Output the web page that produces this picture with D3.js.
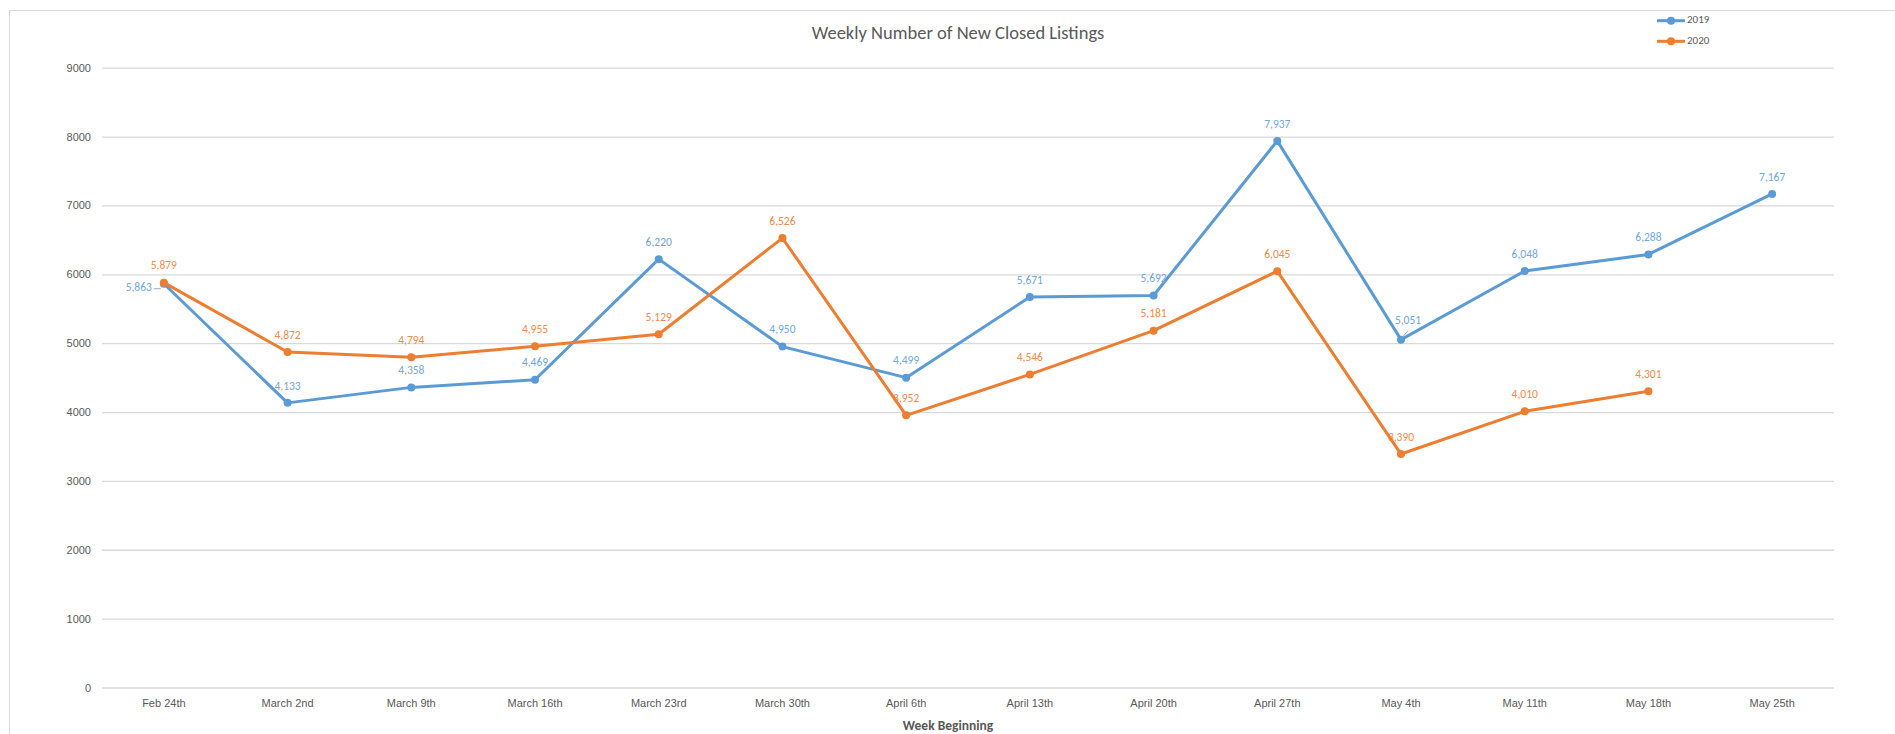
<!DOCTYPE html>
<html>
<head>
<meta charset="utf-8">
<script src="https://cdn.jsdelivr.net/npm/d3@7"></script>
<style>
  body { margin: 0; background: #fff; }
  svg { display: block; font-family: Carlito, Calibri, Lato, sans-serif; }
</style>
</head>
<body>
<div id="chart"></div>
<script>
// week labels on the x axis
var weeks = ["Feb 24th", "March 2nd", "March 9th", "March 16th", "March 23rd", "March 30th",
  "April 6th", "April 13th", "April 20th", "April 27th", "May 4th", "May 11th", "May 18th", "May 25th"];
var values2019 = [5863, 4133, 4358, 4469, 6220, 4950, 4499, 5671, 5692, 7937, 5051, 6048, 6288, 7167];
var values2020 = [5879, 4872, 4794, 4955, 5129, 6526, 3952, 4546, 5181, 6045, 3390, 4010, 4301];
var yTicks = [0, 1000, 2000, 3000, 4000, 5000, 6000, 7000, 8000, 9000];

var width = 1895, height = 734;
var plot = { left: 102, right: 1834, top: 67.7, bottom: 687.5 };
var textColor = "#595959";
var gridColor = "#d9d9d9";

var series = [
  { name: "2019", values: values2019, color: "#5b9bd5", label: "#6fa8dc" },
  { name: "2020", values: values2020, color: "#ed7d31", label: "#f08a4b" }
];

var svg = d3.select("#chart").append("svg")
  .attr("width", width)
  .attr("height", height);

// chart border
svg.append("rect")
  .attr("x", 9.5).attr("y", 10.5)
  .attr("width", width).attr("height", height)
  .attr("fill", "none")
  .attr("stroke", gridColor);

var x = d3.scaleBand()
  .domain(weeks)
  .range([plot.left, plot.right]);

var y = d3.scaleLinear()
  .domain([0, 9000])
  .range([plot.bottom, plot.top]);

function cx(i) { return x(weeks[i]) + x.bandwidth() / 2; }

// y axis with gridlines
var yAxis = svg.append("g")
  .attr("transform", "translate(" + plot.left + ",0)")
  .call(d3.axisLeft(y).tickValues(yTicks).tickSize(-(plot.right - plot.left)).tickPadding(11).tickFormat(d3.format("d")));
yAxis.select(".domain").remove();
yAxis.selectAll(".tick line").attr("stroke", gridColor).attr("stroke-width", 1.3);
yAxis.selectAll(".tick text")
  .attr("fill", textColor)
  .style("font-size", "11px");

// x axis labels
var xAxis = svg.append("g")
  .attr("transform", "translate(0," + plot.bottom + ")")
  .call(d3.axisBottom(x).tickSize(0).tickPadding(0));
xAxis.select(".domain").remove();
xAxis.selectAll(".tick text")
  .attr("y", 15.5)
  .attr("dy", "0.35em")
  .attr("fill", textColor)
  .style("font-size", "11px");

// titles
svg.append("text")
  .attr("x", 958).attr("y", 35)
  .attr("text-anchor", "middle")
  .attr("dominant-baseline", "middle")
  .attr("fill", textColor)
  .style("font-size", "18.5px")
  .text("Weekly Number of New Closed Listings");

svg.append("text")
  .attr("x", 948).attr("y", 727)
  .attr("text-anchor", "middle")
  .attr("dominant-baseline", "middle")
  .attr("fill", textColor)
  .style("font-size", "13.5px")
  .style("font-weight", "bold")
  .text("Week Beginning");

var line = d3.line()
  .x(function (d, i) { return cx(i); })
  .y(function (d) { return y(d); });

var fmt = d3.format(",");

series.forEach(function (s) {
  var g = svg.append("g").attr("class", "series");

  g.append("path")
    .datum(s.values)
    .attr("d", line)
    .attr("fill", "none")
    .attr("stroke", s.color)
    .attr("stroke-width", 3)
    .attr("stroke-linejoin", "round");

  g.selectAll("circle")
    .data(s.values)
    .enter().append("circle")
    .attr("cx", function (d, i) { return cx(i); })
    .attr("cy", function (d) { return y(d); })
    .attr("r", 4)
    .attr("fill", s.color);

  g.selectAll("text")
    .data(s.values)
    .enter().append("text")
    .attr("dominant-baseline", "middle")
    .attr("fill", s.label)
    .style("font-size", "11.5px")
    .each(function (d, i) {
      var t = d3.select(this);
      var px = cx(i), py = y(d);
      if (s.name === "2019" && i === 0) {
        // label pushed to the left, with a leader line
        t.attr("x", px - 12).attr("y", py + 5).attr("text-anchor", "end");
        g.append("line")
          .attr("x1", px - 10).attr("x2", px - 3)
          .attr("y1", py + 5).attr("y2", py + 5)
          .attr("stroke", "#a6a6a6");
      } else if (s.name === "2019" && i === 10) {
        t.attr("x", px + 7).attr("y", py - 18).attr("text-anchor", "middle");
        g.append("line")
          .attr("x1", px + 7).attr("x2", px + 1)
          .attr("y1", py - 9).attr("y2", py - 2)
          .attr("stroke", "#a6a6a6");
      } else {
        t.attr("x", px).attr("y", py - 16).attr("text-anchor", "middle");
      }
    })
    .text(function (d) { return fmt(d); });
});

// legend
var legend = svg.append("g").attr("class", "legend");
series.forEach(function (s, i) {
  var ly = 20.7 + i * 20.6;
  legend.append("line")
    .attr("x1", 1657).attr("x2", 1685)
    .attr("y1", ly).attr("y2", ly)
    .attr("stroke", s.color)
    .attr("stroke-width", 3);
  legend.append("circle")
    .attr("cx", 1671).attr("cy", ly).attr("r", 4)
    .attr("fill", s.color);
  legend.append("text")
    .attr("x", 1687).attr("y", ly)
    .attr("dominant-baseline", "middle")
    .attr("fill", textColor)
    .style("font-size", "11px")
    .text(s.name);
});
</script>
</body>
</html>
